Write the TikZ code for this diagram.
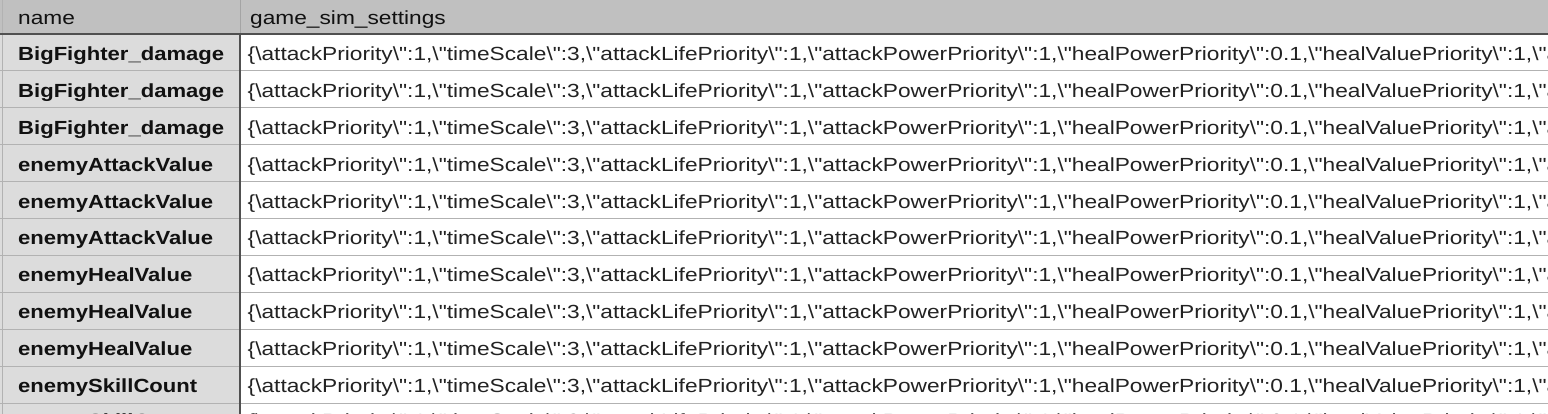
\documentclass[tikz,border=0pt]{standalone}
\usepackage{fontspec}
\setmainfont{Liberation Sans}[Ligatures=TeXOff]
\usepackage{graphicx}
\definecolor{hdrbg}{HTML}{C0C0C0}
\definecolor{namebg}{HTML}{DCDCDC}
\definecolor{rowline}{HTML}{B2B2B2}
\definecolor{darkline}{HTML}{505050}
\definecolor{hdrsep}{HTML}{A4A4A4}
\definecolor{txt}{HTML}{111111}
\definecolor{valtxt}{HTML}{222222}
\newlength\wname
\newlength\wval
\newcommand\bs{\textbackslash}
\newcommand\valstr{\{\bs attackPriority\bs":1,\bs"timeScale\bs":3,\bs"attackLifePriority\bs":1,\bs"attackPowerPriority\bs":1,\bs"healPowerPriority\bs":0.1,\bs"healValuePriority\bs":1,\bs"}
\newcommand\valmore{attackValuePriority\bs":1,\bs"}
\newcommand\cellfont{\fontsize{19}{22}\selectfont}
\AtBeginDocument{%
  \settowidth\wname{\cellfont\bfseries BigFighter\_damage}%
  \settowidth\wval{\cellfont\valstr}%
  \pgfmathsetmacro\sxname{206/\wname}%
  \pgfmathsetmacro\sxval{1299/\wval}%
  \global\let\sxname\sxname
  \global\let\sxval\sxval
}
\begin{document}
\begin{tikzpicture}[x=1pt,y=-1pt,
  namecell/.style={anchor=base west, inner sep=0pt, font=\cellfont\bfseries, text=txt},
  valcell/.style={anchor=base west, inner sep=0pt, font=\cellfont, text=valtxt},
  hdrcell/.style={anchor=base west, inner sep=0pt, font=\cellfont, text=txt},
  rowrule/.style={draw=rowline, line width=1pt},
  darkrule/.style={draw=darkline, line width=1.4pt}]
\useasboundingbox (0,0) rectangle (1548,414);
\clip (0,0) rectangle (1548,414);
% backgrounds
\fill[hdrbg] (0,0) rectangle (1548,34);
\fill[namebg] (0,34) rectangle (240,414);
\fill[white] (240,34) rectangle (1548,414);
% row rules
\foreach \k in {1,...,10} {
  \pgfmathsetmacro\yy{34+36.9*\k}
  \draw[rowrule] (0,\yy) -- (1548,\yy);
}
% left border and separators
\draw[draw=rowline, line width=1pt] (2.5,0) -- (2.5,414);
\draw[draw=hdrsep, line width=1pt] (240,0) -- (240,34);
\draw[darkrule] (240,34) -- (240,414);
\draw[darkrule] (0,34) -- (1548,34);
% header
\node[hdrcell] (hname) at (18,25) {\scalebox{\sxval}[1]{name}};
\node[hdrcell] (hval) at (250,25) {\scalebox{\sxval}[1]{game\_sim\_settings}};
% rows
\foreach \k/\nm in {1/BigFighter\_damage,2/BigFighter\_damage,3/BigFighter\_damage,
  4/enemyAttackValue,5/enemyAttackValue,6/enemyAttackValue,
  7/enemyHealValue,8/enemyHealValue,9/enemyHealValue,10/enemySkillCount} {
  \pgfmathsetmacro\yb{34+36.9*(\k-1)+26.5}
  \node[namecell] (n\k) at (18,\yb) {\scalebox{\sxname}[1]{\nm}};
  \node[valcell] (v\k) at (247.5,\yb) {\scalebox{\sxval}[1]{\valstr\valmore}};
}
\node[namecell] (n11) at (18,427) {\scalebox{\sxname}[1]{enemySkillCount}};
\node[valcell] (v11) at (247.5,427) {\scalebox{\sxval}[1]{\valstr\valmore}};
\end{tikzpicture}
\end{document}
